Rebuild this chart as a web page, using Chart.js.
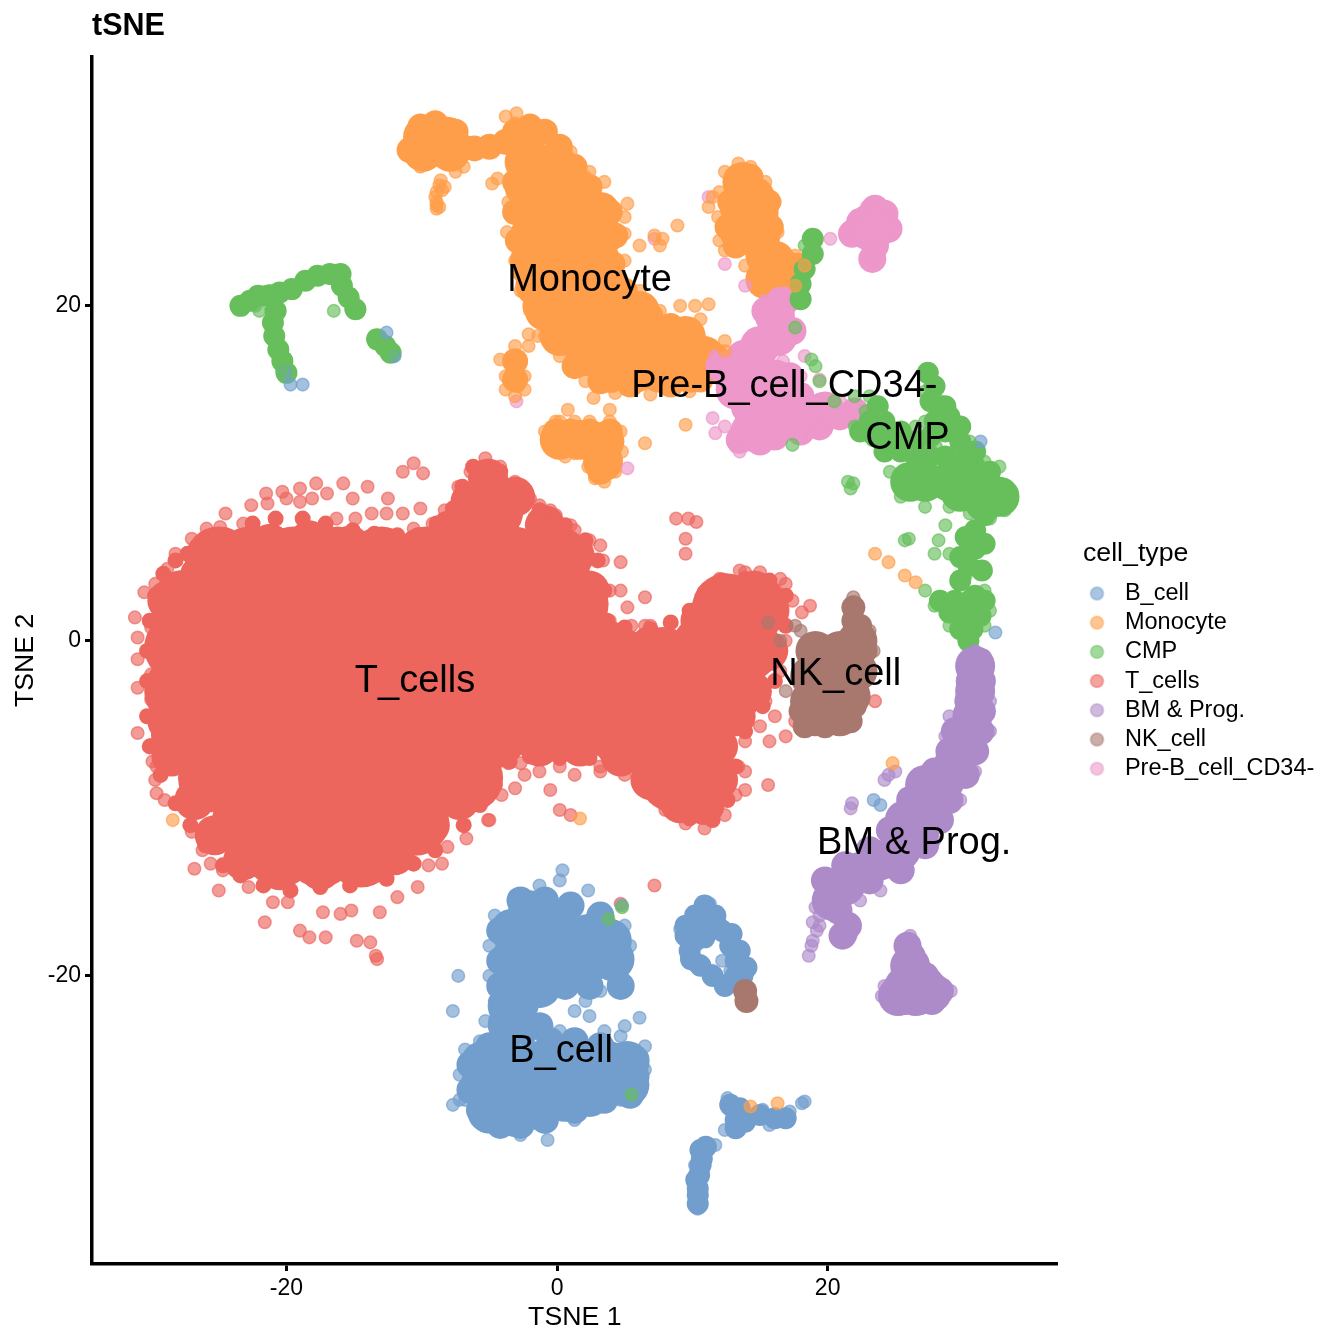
<!DOCTYPE html>
<html>
<head>
<meta charset="utf-8">
<title>tSNE</title>
<script src="https://cdn.jsdelivr.net/npm/chart.js@4"></script>
<style>
  html, body { margin: 0; padding: 0; background: #fff; }
  canvas { display: block; }
</style>
</head>
<body>
<canvas id="tsne" width="1344" height="1344"></canvas>
<script>
/* =========================
   DATA
========================= */
const cellTypes = ["B_cell", "Monocyte", "CMP", "T_cells", "BM & Prog.", "NK_cell", "Pre-B_cell_CD34-"];
const typeColors = ["114,158,206", "255,158,74", "103,191,92", "237,102,93", "173,139,201", "168,120,110", "237,151,202"];
const xTicks = [-20, 0, 20];
const yTicks = [-20, 0, 20];

// cluster names as printed over the plot
const labelNames = ["Monocyte", "Pre-B_cell_CD34-", "CMP", "T_cells", "NK_cell", "BM & Prog.", "B_cell"];
const labelX = [2.4, 16.8, 25.9, -10.5, 20.6, 26.4, 0.3];
const labelY = [21.5, 15.2, 12.1, -2.4, -2, -12.1, -24.5];

// dense middle of the big T cell cloud
const tCellsDeep = [
  [-25,4.8],[-22.7,4.8],[-19.5,4.8],[-16.2,4.8],[-13,4.8],[-9.7,4.8],[-6.5,4.8],[-3.2,4.8],[0,4.8],
  [-27.5,2.2],[-24.2,2.2],[-21,2.2],[-17.7,2.2],[-14.5,2.2],[-11.2,2.2],[-8,2.2],[-4.7,2.2],[-1.5,2.2],[1.3,2.2],[12.5,2],[14.5,2],
  [-28,-0.4],[-24.7,-0.4],[-21.5,-0.4],[-18.2,-0.4],[-15,-0.4],[-11.7,-0.4],[-8.5,-0.4],[-5.2,-0.4],[-2,-0.4],[1.3,-0.4],[4.5,-1.2],[7.8,-1.2],[11,-0.4],[14,-0.4],
  [-28,-3],[-24.7,-3],[-21.5,-3],[-18.2,-3],[-15,-3],[-11.7,-3],[-8.5,-3],[-5.2,-3],[-2,-3],[1.3,-3],[4.5,-3],[7.8,-3],[11,-3],[12.7,-3],
  [-27.5,-5.6],[-24.2,-5.6],[-21,-5.6],[-17.7,-5.6],[-14.5,-5.6],[-11.2,-5.6],[-8,-5.6],[-4.7,-5.6],[-1.5,-5],[1.7,-5],[5,-5.6],[8.2,-5.6],[10.5,-5.6],
  [-25.5,-8.2],[-22.2,-8.2],[-19,-8.2],[-15.7,-8.2],[-12.5,-8.2],[-9.2,-8.2],[-6.5,-8.2],[8.6,-8.2],[10,-8.2],
  [-23,-10.8],[-19.7,-10.8],[-16.5,-10.8],[-13.2,-10.8],[-10.5,-10.8],
  [-20.5,-12.7],[-17.5,-12.7],[-14.5,-12.7],[-5,7.8]
];
const tCellsCore = [
  [-28.8,2.4],[-28.8,0],[-28.8,-2.4],[-28.8,-4.8],[-28.5,-6.9],[-26.8,-9.5],[-25.3,-11.6],[-23.2,-13.1],[-20.5,-13.7],[-17.5,-13.7],
  [-14.6,-13.4],[-12,-12.8],[-9.4,-11],[-7.2,-9.5],[-5.7,-7.8],[-4.2,-6.3],[-1.3,-6.3],[1.7,-6.3],[4.7,-6.9],[6.9,-8.3],
  [9.1,-9.7],[10.9,-9.8],[11.9,-8.3],[11.9,-6.3],[13.2,-4.5],[14.4,-3],[15.6,-0.6],[15.7,1.8],[14.6,3],[12.4,2.7],
  [10.6,1.2],[6.9,-0.3],[3.9,0],[2.4,3],[1.3,5.1],[-0.9,6.9],[-3.1,8.6],[-5.1,9.7],[-6.4,8.3],[-7.9,6.6],
  [-10.1,4.9],[-12.7,5.1],[-15.3,5.7],[-18.3,6],[-21.2,5.8],[-23.8,4.8],[-26.4,3.9],[-27.9,3]
];
// thin solid rim round the T cell cloud
const tCellsRim = [
  [-29.1,4],[-28.2,4.8],[-27.3,5.2],[-26,5.7],[-24.5,6.3],[-22.5,7],[-20.8,7.3],[-18.8,7.3],[-17.1,7],[-15.1,6.6],[-13.5,6.4],[-11.8,6.3],[-10.3,6.3],
  [-8.9,7],[-7.7,7.9],[-7,9.2],[-6.2,10.4],[-4.2,10.1],[-2.7,8.9],[-1.3,7.8],[0.6,6.9],[2.1,6],[3,4.8],[3.5,3],[3.7,1.2],[5,0.8],[6.9,0.7],[8.4,1.1],
  [9.8,1.8],[10.9,2.9],[12.2,3.6],[13.9,3.7],[15.7,3.6],[16.9,2.7],[16.9,0.9],[16.5,-0.6],[16.1,-2.4],[15.2,-3.9],[13.9,-5.4],[13.2,-7.5],[12.6,-9.5],
  [11.5,-10.7],[9.8,-10.6],[8,-9.5],[6.5,-8.3],[4.7,-7.5],[2.4,-7],[0.2,-7],[-2,-6.9],[-3.5,-7.2],[-4.6,-8.6],[-5.7,-9.8],[-6.9,-11],[-9,-12.5],[-10.6,-13.3],
  [-12.6,-14.2],[-15.3,-14.6],[-17.5,-14.7],[-19.7,-14.9],[-21.7,-14.6],[-23.4,-14],[-24.7,-13.4],[-26,-12.2],[-27.1,-11],[-28.2,-9.7],[-29.3,-8],[-30.1,-6.3],
  [-30.3,-4.5],[-30.3,-2.4],[-30.3,-0.6],[-30.1,1.2],[-29.7,2.7]
];
const tCellsSpots = [
  [-31.2,1.4],[-31,0.2],[-31,-1.1],[-31,-2.8],[-31,-5.5],[-30.5,2.9],[-29.7,3.4],[-28.8,4.3],[-28.2,5.2],[-27,6.1],
  [-25.9,6.7],[-24.9,6.8],[-24.5,7.6],[-23.2,7],[-22.6,8.1],[-21.5,8.8],[-20.3,8.9],[-19,9.1],[-17.8,9.4],[-17,8.8],
  [-15.8,9.4],[-14,9.2],[-12.5,8.5],[-10.1,7.9],[-11.4,7.6],[-15.1,8.5],[-18.1,8.5],[-20,8.5],[-21.4,8.2],[-19,8.3],
  [-16.3,7.3],[-14.9,7.3],[-13.7,7.6],[-12.6,7.6],[-10.6,6.7],[-9.2,7],[-10.6,10.6],[-11.4,10.1],[-9.9,10],
  [-30,0.8],[-30.2,-0.6],[-30,-2],[-30,-3.5],[-29.8,-4.6],[-30,-6.2],[-29.6,-7.5],[-28.8,3.6],
  [-29.9,-7.2],[-29.7,-8.3],[-29.6,-9.1],[-29,-9.5],[-27,-11.4],[-26.2,-12.5],[-26.8,-13.6],[-25.6,-13.3],[-24.7,-13.7],[-25,-14.9],
  [-22.8,-14.7],[-21,-15.6],[-21.6,-16.8],[-19.9,-15.6],[-19,-17.3],[-18.3,-17.7],[-17.1,-17.7],[-17.3,-16.2],[-16,-16.3],[-15.2,-16.1],
  [-14.8,-17.9],[-13.8,-18],[-13.3,-19],[-13.4,-18.8],[-13.1,-16.2],[-11.8,-15.3],[-10.3,-14.7],[-9.5,-13.4],[-8.5,-13.3],[-8.1,-12.3],
  [-6.7,-11.8],[-5.1,-10.7],[-4.1,-9.2],[-3.6,-7.3],[-3.1,-8.8],
  [4.7,4.7],[9.7,7.3],[10.3,7.1],[8.8,7.3],[9.5,6.1],[9.5,5.2],[4.7,3],[5.2,2],[6.5,2.6],[5.5,0.9],[6.5,0.9],
  [-1.3,8.1],[-0.1,7.5],[1.3,6.6],[3.2,5.7],[12,3.7],[13.9,4.1],[16.9,3.4],[18.1,1.7],[18.7,2.1],
  [23.5,-3.6],[15.6,-8.6],[13.9,-7.8],[15.7,-6],[16.9,-5.7],[15,-5.1],[17.6,-4.8],[16.1,-4.5],
  [0.2,-10.1],[1,-10.4],[-0.5,-8.9],[-2.4,-8],[1.3,-8],[-1.3,-7.8],[-5,-10.7],[7.2,-14.6],[4.7,-15.7],[3.2,-7.8],[5,-8],[13.9,-8.9],
  [-2.7,-7.3],[0.2,-7.5],[3.2,-7.5],[6.1,-8.6],[8,-10.1],[9.5,-10.9],[10.9,-11.2],[12.4,-10.4],[13.2,-9.2],[13.4,-7.5],[13.9,-6],[15.4,-3.6],
  [6.9,0.9],[8.4,1.1],[9.8,1.7],[10.9,2.7],[12,3.6],[13.5,4.2],[15,4.1],[16.5,3.7],[17.4,2.4],[16.9,0],[16.5,-1.8],
  [-5.3,10.9],[-6.4,10.1],[-4.2,10.4],[-3.1,9.5],[-2,8.5],[-0.5,7.8],[1,6.9],[2.4,6],[3.4,4.8],[3.9,3],[3.9,1.2],[-7.3,9.2],[-8.3,7.8]
];

const monocyteCore = [
  [-2.4,29.8],[-2.4,28.6],[-0.1,28.6],[-2.4,27.1],[-0.5,27.1],[1.3,27.1],
  [-2,25.6],[-0.1,25.6],[1.7,25.6],[3.2,25.6],[-2,24.2],[-0.1,24.2],[1.7,24.2],[3.4,24.2],
  [-2,22.7],[-0.1,22.7],[1.7,22.7],[3.2,22.7],[-1.6,21.2],[0.2,21.2],[2.1,21.2],[3.9,21.2],
  [-0.9,19.7],[1,19.7],[2.8,19.7],[4.7,19.7],[6.1,19.7],[0.2,18.2],[2.1,18.2],[3.9,18.2],[5.8,18.2],[7.6,18.2],[9.5,18.2],
  [2.1,17],[3.9,17],[5.8,17],[7.6,17],[9.5,17],[10.9,17],[3.9,16],[5.8,16],[7.6,16],[9.8,16],
  [-9.9,30.1],[-9.9,29.2],[-8.1,30.1],[-7.9,29.2],
  [13.7,27.4],[14.6,26.5],[13.5,25.9],[14.9,25.6],[13.5,24.4],[15,24.1],[15.4,23],[16.9,22.1],[15.4,21.6],[16.1,22.7],
  [0.2,12],[1.7,12],[3.5,11.9],[3.4,10.7]
];
const monocyteBand = [
  [-10.9,29.3],[-10.1,30.7],[-9,30.9],[-7.5,30.4],[-7,29.5],[-6.1,29.4],[-5,29.5],[-3.8,29.8],[-3.1,30.4],[-2,30.7],[-0.9,30.4],[0.2,29.5],[1.3,28.3],[2.4,27.1],
  [3.9,25.6],[4.3,24.2],[4.1,22.5],[5,20.9],[6.9,19.4],[8.4,18.8],[10.2,17.6],[11.7,17],[-3.1,27.4],[-3.1,25.6],[-2.9,23.9],[-2.4,22.1],[-1.6,20],[-0.1,17.9],
  [1.3,16.4],[3.2,15.5],[5.4,15.3],[8.4,15.3],[10.6,15.6],[-3.1,16.7],[-3.1,15.6],[-0.1,12.5],[1,12.5],[2.4,12.5],[3.9,12.5],[3.2,10.1],
  [12.8,26.2],[12.6,24.7],[13.2,23.6],[14.3,27.7],[15.6,26.2],[15.8,24.7],[17.8,22.4],[17.2,21.2]
];
const monocyteSpots = [
  [-6.4,29.3],[-5.5,29.5],[-4.6,29.6],[-3.8,29.9],[-3.5,30.4],[-2,30.7],[-0.9,30.5],
  [-8.6,27.5],[-8.9,26.8],[-8.9,26.2],[-8.9,25.8],[-8.3,27.1],[-10.1,28.3],[-7.5,28],[-6.9,28.3],[-4.8,27.3],[-4.4,27.6],
  [-8.7,27.2],[-8.5,26.9],[-9,26.5],[-8.9,26],[-8.7,25.9],
  [-3.8,31.3],[-3,31.5],[-3.1,30.9],[1,29.2],[2.1,27.7],[3.5,27.4],[5.2,26.1],
  [5,24.3],[6.1,23.6],[7.2,24.2],[7.8,24],[7.6,23.6],[8.9,24.8],[9.1,20],[11.2,20.1],[10.6,19.2],[10.2,20],
  [-2.1,18.3],[-1.4,18.2],[-4.2,16.8],[-3.1,17.6],[-2.1,17.6],[-3.1,16.7],[-3.8,15.8],[-3.1,15.8],[-2.4,15.8],[-3.8,15],[-2.9,15.2],[-2.4,15],[-3.1,14.6],[1,16.2],
  [2.7,14.5],[4.1,15.2],[3.9,13.8],[0.8,13.8],[-0.1,13.1],[6.5,11.8],[9.5,12.9],
  [-0.9,12.5],[-0.7,11.9],[0.2,13.1],[1.3,13.1],[2.4,13.1],[3.9,13.1],[4.7,12.5],[4.8,11.3],[4.3,10.1],[3.5,9.5],[2.8,9.7],[2.3,10.4],[1.3,11.2],[0.6,11],[-0.1,11.6],
  [13.4,28.5],[14.3,28.3],[15.4,27.4],[16.1,26.2],[16.3,24.4],[17.6,23],[18.3,22.4],[17.6,21.2],[12,26.8],[11.9,25.3],[12,23.9],[12.4,23.3],[13.9,22.4],[14.3,23.3],[11.2,25.9],[11.5,26.5],[12.4,28],
  [23.5,5.2],[24.5,4.7],[25.7,3.9],[26.5,3.5],[1.7,-10.6],[24.8,-7.3],[14.3,-27.8],[16.3,-27.6],[-28.4,-10.7],[12.4,17.9],
  [-3.6,26.2],[-3.7,24.4],[-3.1,22.7],[-2.7,20.9],[-2,19.7],[-0.9,18.2],[0.2,17],[2.1,15.5],[4.3,14.8],[6.9,14.7],[9.8,14.9],
  [5,25.3],[5,22.7],[6.1,20.9],[7.6,19.7],[9.1,18.8],[10.6,18],[12.4,17.3],[2.4,28],[3.9,25.9]
];

const preBCore = [
  [16.1,19.4],[16.3,18.2],[15,17.6],[13.9,16.8],[12.8,16.1],[14.6,16],[16.1,15.6],[13.2,15],[15,14.6],[16.9,14.4],
  [14.6,13],[16.5,13.1],[18.3,13.4],[19.8,13.7],[14.3,12.5],[23.1,24.9],[23.7,24.7]
];
const preBBand = [
  [12,16.4],[13.2,16.7],[13.9,13.9],[13.5,12],[15,11.9],[16.1,12.2],[18,14.6],[17.2,15.8],[18,12.5],[19.4,12.8],[20.9,13.4],[22,13.7],
  [16.5,20.3],[15.4,19.7],[16.9,20.3],[17.4,18.5],[22.4,25],[23.5,25.8],[24.2,25.5],[24.5,24.6],[22.8,24.2],[23.5,23.6],[23.3,22.8],[21.8,24.3]
];
const preBSpots = [
  [22.9,25.9],[24.2,25.9],[24.7,24.7],[21.6,24.7],[21.5,24.1],[23.1,23.6],[23.9,23.6],[23.3,22.7],[22.4,25.3],[20.2,24],
  [7.2,24],[-3,14.3],[5.2,10.3],[13.9,21.2],[12.4,22.5],[11.2,26.5],[11.7,12.4],[11.5,13.3],[13.2,11.6],[16.7,16.7],
  [18.3,17],[19.4,15.6],[18,15.8],[20.9,14.3],[22,13.7],[15.4,20.3],[17.2,20.3],[11.7,17],[12.4,12.8],[13.5,11.3],[18,12.2],[19.4,12.8]
];

const cmpCore = [
  [26.1,9.5],[27.2,9.5],[29,9.5],[30.9,9.5],[32.7,8.6],[29.8,8.9],[31.6,8.3]
];
const cmpBand = [
  [23.7,14],[23.1,13.1],[24.2,13.1],[22.4,12.5],[23.5,12.2],[24.6,12.2],[25.4,12.5],[24.2,11.3],[25.4,11.3],[26.5,11.9],[27.6,12.2],[28.7,12.5],[29.8,11.9],[30.9,11.3],
  [27.9,13.1],[29,13.4],[27.6,14.3],[27.9,15.2],[27.4,16],[28.7,14],[29.8,12.8],[26.5,11],[27.6,11],[28.7,11],[29.8,10.7],[30.9,10.4],[32,10.1],
  [31.6,7.5],[30.9,6.6],[30.9,5.5],[30.4,4.5],[29.8,3.6],[30.9,2.7],[29.8,5],[31.4,4.2],[30.2,6.2],[31.6,5.8],
  [28.3,2.4],[29.4,2.4],[30.5,2.4],[31.6,2.4],[29,1.7],[30.2,1.5],[31.3,1.5],[29.8,0.7],[30.7,0.7],[30.4,0],
  [18.9,24],[18.9,23.1],[18.3,22.2],[18,21.3],[18,20.4],
  [-23.4,20],[-22.7,20.3],[-22.1,20.6],[-21.4,20.6],[-20.5,20.8],[-19.6,21],[-18.6,21.5],[-17.7,21.8],[-16.8,21.9],[-16,21.9],[-15.9,21.2],[-15.4,20.5],[-14.9,19.8],
  [-20.8,19.7],[-21,19],[-20.9,18.2],[-20.6,17.4],[-20.3,16.7],[-20,16],[-13.3,18],[-12.7,17.6],[-12.3,17.2]
];
const cmpSpots = [
  [18.3,23.6],[19.1,24],[18.7,23],[18.3,22.1],[18,21.2],[18.2,20.5],[17.6,18.7],[18.8,16.8],[19.1,16.4],[19.4,15.5],[17.4,11.7],
  [20.5,14.3],[22,14.6],[23.1,14.6],[23.9,13.7],[22.8,13.7],[22,12.8],[24.2,12.5],[23.1,12.2],[24.6,11.3],
  [27.6,15.8],[27.2,14.9],[28.3,14.3],[29,13.7],[29.8,12.8],[30.5,11.9],[28.7,12.5],[28,11.6],[29.4,11.3],[30.9,11],[27.2,13.1],[26.5,12.8],
  [24.6,10.1],[31.6,10.7],[32.7,10.4],[33.6,8.9],[33.1,7.8],[32,7.3],[30.5,7.6],[25.4,8.6],[27.2,8],[29,8],
  [30.9,6.6],[30.9,5.7],[30.4,4.8],[30.2,3.9],[28.7,6.9],[28.2,6],[27.9,5.2],[29,5.2],[25.7,6],[26,6.1],[21.9,9.4],[21.5,9.5],[21.7,9.1],
  [27.2,3],[27.9,2.1],[29,0.9],[30.2,0],[31.6,0.9],[32,1.8],[31.6,3],
  [-23.4,20],[-22.8,20.4],[-22.1,20.8],[-21.4,20.4],[-22.3,20],[-21.2,20.9],[-20.1,20.9],[-19,21.3],[-17.9,21.8],[-16.4,22.1],[-16,21.5],[-15.7,20.6],[-15.2,19.8],[-14.7,19.6],[-16.5,19.7],
  [-20.6,19.7],[-21.1,18.5],[-20.6,17.3],[-20.3,16.2],[-22,19.7],[-13.5,18.2],[-12.7,17.6],[-12.2,17.2],
  [3.8,-16.6],[4.8,-15.9],[5.5,-27.1]
];

const bmCore = [
  [30.9,-1.5],[30.9,-3],[30.7,-4.5],[30.2,-6],[29.4,-7.2],[28.7,-8.3],[27.2,-8.6],[27.6,-9.8],[25.7,-10.7],[26.8,-11.3],
  [25.4,-12.5],[23.9,-13.1],[22.4,-13.8],[21.3,-14.6],[20.3,-15.5],
  [26.1,-19.4],[25.7,-20.6],[27.2,-20.6],[25.2,-21.2],[26.5,-21.2],[27.7,-21]
];
const bmBand = [
  [30.5,-2.4],[31.4,-2.4],[30.4,-3.6],[31.4,-4.2],[31.3,-5.4],[29.4,-5.4],[29,-6.6],[30.9,-6.6],[30.2,-8],[27.9,-7.8],[26.1,-9.5],[29,-9.5],[28.3,-10.7],[24.6,-11.3],[27.2,-12.2],
  [23.1,-12.5],[25.4,-13.7],[21.3,-13.4],[19.8,-14.3],[23.1,-14.3],[20.8,-16.1],[21.5,-17],[21.1,-17.6],
  [25.9,-18.2],[26.2,-18.8],[25.2,-20.6],[24.8,-21.2],[28.3,-20.9],[26.8,-21.5],[25.7,-21.5],[27.7,-21.5],[27.2,-20]
];
const bmSpots = [
  [19.4,-17],[18.9,-17.9],[18.6,-18.8],[18.9,-16.8],[19.1,-15.9],[19.5,-15.2],[19.2,-17.3],[18.8,-18.2],[19.4,-16.4],[21.5,-17],[20.9,-17.6],[21.7,-17.6],[20.5,-16.4],[26.1,-17.6],[25.9,-18.2],[30.9,-0.6],[31.6,-0.9],
  [24.5,-8],[25,-7.8],[24.2,-8.3],[21.8,-9.7],[21.7,-10],[29,-4.5],[28.7,-5.7],[32,-3.6],[32,-5.4],[30.9,-7.8],[29.8,-9.5],[27.9,-11.9],[25.7,-13.7],[23.9,-14.9],
  [25.7,-9.2],[22.4,-15.5],[24.2,-20.6],[29.1,-20.9],[26.8,-21.9],[25.7,-21.9],[27.7,-21.8],[27.7,-20],[26.9,-19.1],[24,-21.2]
];

const nkCore = [
  [19.1,-0.6],[20.9,-0.6],[22.2,0],[18.7,-2.1],[20.5,-2.1],[22.2,-1.8],[18.7,-3.6],[20.5,-3.5],[21.7,-3.3],[19.1,-4.5],[20.9,-4.5]
];
const nkBand = [[22.4,0.9],[22.8,-0.6],[18,-4.2],[18.3,-5.1],[21.7,-4.8],[19.8,-5.1],[22,-3.9],[21.9,2],[21.9,1.2],[13.9,-20.9],[14,-21.5]];
const nkSpots = [
  [21.9,2.6],[21.9,1.8],[21.9,1.2],[17.6,0.9],[15.6,1.1],[16.5,0],[16.9,-3],[13.9,-21],[14,-21.6],[23.4,-0.6],[23.1,0.6],[18,0.6]
];

const bCellCore = [
  [-2,-16.2],[-0.1,-16.8],[-3.3,-17.3],[-1.5,-17.8],[0.4,-18.2],[2.4,-17.6],[3.9,-17.9],[-3.1,-18.8],[-1.3,-19.2],[0.6,-19.4],[2.4,-19.1],[4.1,-19],
  [-3.1,-20.3],[-1.3,-20.6],[-3.5,-21.8],[-3.5,-22.9],
  [-5.5,-25.2],[-3.6,-25.2],[-1.8,-25.2],[0.1,-25.2],[1.9,-25.2],[3.8,-25.2],[5.2,-25.2],
  [-5.5,-26.5],[-3.6,-26.5],[-1.8,-26.5],[0.1,-26.5],[1.9,-26.5],[3.8,-26.5],[5.2,-26.5],
  [-5,-28.1],[-3.1,-28.3],[-1.3,-27.9],[0.6,-27.4],[2.4,-27.1]
];
const bCellBand = [
  [-2.7,-15.5],[-0.9,-15.5],[1,-15.8],[3.2,-16.4],[-4.2,-17.3],[-4.2,-19.1],[-4.2,-20.6],[-2.4,-21.8],[-2.4,-23.3],[-1.3,-23],[-0.5,-23.9],[1.3,-23.9],[3.2,-24.2],[-5,-24.2],
  [4.7,-20.6],[2.4,-20.6],[0.6,-20.6],[-6.4,-25.3],[-6.4,-26.8],[-5.7,-28],[-4.2,-28.9],[-2.7,-28.9],[-0.9,-28.6],[1.3,-28],[3.5,-27.4],[5.4,-27.1],[5.8,-25],[5.8,-26]
];
const bCellStrip = [
  [10.9,-15.8],[10.2,-16.4],[9.5,-17],[10.6,-17],[11.7,-16.4],[12.2,-17.3],[12.8,-18.2],[13.2,-19.1],[13.7,-20],[12.4,-20.6],[11.5,-20],[10.6,-19.4],[9.8,-18.5],[9.5,-17.6],[13.2,-20],
  [10.9,-17.7],[9.9,-19],[12.9,-17.5],[13.5,-18.5],[14,-19.5],[11.9,-17.1],[10.2,-17.9],
  [12.8,-27.7],[13.2,-28.6],[13.9,-28.7],[15,-28.3],[16.1,-28.5],[16.9,-28.5],[13.2,-29.1],[13.5,-27.9],[10.6,-31.3],[10.3,-32.2],[10.4,-33.1],[10.6,-30.4],[10.5,-31.9],[10.4,-32.7],[10.4,-33.6],[10.7,-30.9],[11,-30.2]
];
const bCellSpots = [
  [0.4,-13.7],[0.2,-14.3],[2.3,-14.9],[-7.3,-20],[-7.7,-22.1],[-7.7,-27.7],[-7.2,-27.4],[-0.7,-29.8],[4.7,-23.6],[6.1,-22.5],[5,-23],[3.5,-23.3],
  [2.4,-22.4],[1.3,-22.1],[0.2,-23.3],[-0.9,-22.7],[-2,-23.3],[-1.3,-21.5],[3.2,-20.9],[2.1,-21.5],[5,-19.4],[5.4,-18.2],[5,-17],[4.8,-15.8],
  [-5,-18.2],[-5,-20],[-4.6,-21.5],[-5.3,-22.7],[-5.7,-23.9],[-6.8,-24.4],[-7.2,-25.9],[-6.8,-27.4],[-4.2,-29.2],[-2.7,-29.5],[3.2,-27.7],[4.7,-27.4],
  [5.8,-26.8],[6.5,-25.6],[6.5,-24.2],[2.4,-28],[3.8,-27.4],[1.3,-28.6],[-1.3,-14.6],[-3.1,-15.2],[-4.6,-16.4],
  [11.3,-15.7],[10.6,-16.1],[9.8,-17],[9.1,-17.2],[10.6,-17],[11.7,-16.7],[12.2,-17.6],[12.8,-18.5],[13.4,-19.4],[13.7,-20.4],[12.4,-20.3],[11.5,-19.7],
  [10.6,-19.1],[9.8,-18.2],[10.2,-19.4],[12.8,-19.7],[13.2,-20.6],[12.2,-19.1],
  [12.6,-27.3],[12.8,-28],[12.4,-29.2],[13.4,-28.5],[14.3,-28.6],[15.2,-28],[16.1,-28.5],[16.9,-28.7],[17.2,-28.1],[18.3,-27.5],[18.1,-27.6],[15.7,-28.9],[13.5,-29.2],
  [11.7,-30.1],[10.9,-30.7],[10.2,-31.3],[10.9,-31.3],[10,-32.1],[10.6,-31.9],[10.3,-32.8],[10.4,-33.4],[10.4,-33.9],
  [-19.7,15.3],[-18.8,15.3],[-20.1,16.1],[-12.6,18.4],[-12,17],[31.3,11.9],[32.4,0.5],[23.4,-9.5],[23.9,-9.8]
];

/* =========================
   DATASETS
========================= */
const FONT = "'Liberation Sans', Arial, sans-serif";

function rgba(i, a) {
  return "rgba(" + typeColors[i] + "," + a + ")";
}

// tight blobs are solid, loose points keep the see-through look of the original
function solid(name, i, points, radius, order) {
  return {
    label: name,
    data: points.map(p => ({ x: p[0], y: p[1] })),
    backgroundColor: rgba(i, 1),
    borderWidth: 0,
    pointRadius: radius,
    pointHoverRadius: radius,
    order: order
  };
}

function spots(name, i, points, order) {
  return {
    label: name,
    data: points.map(p => ({ x: p[0], y: p[1] })),
    backgroundColor: rgba(i, 0.65),
    borderColor: rgba(i, 0.65),
    borderWidth: 1.5,
    pointRadius: 6.3,
    pointHoverRadius: 6.3,
    order: order
  };
}

const datasets = [
  spots("B_cell", 0, bCellSpots, 1),
  solid("B_cell core", 0, bCellCore, 22, 1),
  solid("B_cell band", 0, bCellBand, 14, 1),
  solid("B_cell strip", 0, bCellStrip, 11, 1),
  spots("Monocyte", 1, monocyteSpots, 0),
  solid("Monocyte core", 1, monocyteCore, 20, 6),
  solid("Monocyte band", 1, monocyteBand, 13, 6),
  spots("CMP", 2, cmpSpots, 0),
  solid("CMP core", 2, cmpCore, 20, 4),
  solid("CMP band", 2, cmpBand, 11, 4),
  spots("T_cells", 3, tCellsSpots, 7),
  solid("T_cells rim", 3, tCellsRim, 8, 8),
  solid("T_cells core", 3, tCellsCore, 20, 8),
  solid("T_cells deep", 3, tCellsDeep, 34, 8),
  spots("BM & Prog.", 4, bmSpots, 3),
  solid("BM & Prog. core", 4, bmCore, 20, 3),
  solid("BM & Prog. band", 4, bmBand, 14, 3),
  spots("NK_cell", 5, nkSpots, 2),
  solid("NK_cell core", 5, nkCore, 20, 2),
  solid("NK_cell band", 5, nkBand, 12, 0.5),
  spots("Pre-B_cell_CD34-", 6, preBSpots, 5),
  solid("Pre-B_cell_CD34- core", 6, preBCore, 20, 5),
  solid("Pre-B_cell_CD34- band", 6, preBBand, 14, 5)
];

/* =========================
   LEGEND MARK
========================= */
// circle sits left of the sprite centre so the text gap matches the original
function legendMark(i) {
  const c = document.createElement("canvas");
  c.width = 34;
  c.height = 20;
  const g = c.getContext("2d");
  g.beginPath();
  g.arc(12.5, 10, 6.3, 0, Math.PI * 2);
  g.fillStyle = rgba(i, 0.6);
  g.fill();
  g.lineWidth = 1.5;
  g.strokeStyle = rgba(i, 0.6);
  g.stroke();
  return c;
}

/* =========================
   PLUGINS
========================= */
const clusterLabels = {
  id: "clusterLabels",
  afterLayout(chart) {
    chart.titleBlock.left = chart.chartArea.left;
    // ggplot keeps the legend in its own place, pin it there
    chart.legend.left = 1084;
    chart.legend.right = 1344;
    chart.legend.top = 576;
    chart.legend.bottom = 1344;
  },
  afterDraw(chart) {
    const ctx = chart.ctx;
    ctx.save();
    ctx.fillStyle = "#000";
    ctx.textBaseline = "middle";
    ctx.font = "26.7px " + FONT;
    ctx.textAlign = "left";
    ctx.fillText("cell_type", 1083, 554);
    ctx.font = "38px " + FONT;
    ctx.textAlign = "center";
    labelNames.forEach((name, i) => {
      ctx.fillText(name, chart.scales.x.getPixelForValue(labelX[i]), chart.scales.y.getPixelForValue(labelY[i]));
    });
    ctx.restore();
  }
};

/* =========================
   CHART
========================= */
new Chart(document.getElementById("tsne"), {
  type: "scatter",
  data: { datasets: datasets },
  plugins: [clusterLabels],
  options: {
    responsive: false,
    animation: false,
    events: [],
    layout: { padding: { top: 0, right: 46, bottom: 10, left: 10 } },
    plugins: {
      tooltip: { enabled: false },
      title: {
        display: true,
        text: "tSNE",
        align: "start",
        color: "#000",
        font: { family: FONT, size: 30.5, weight: "bold" },
        padding: { top: 8, bottom: 12 }
      },
      legend: {
        position: "right",
        align: "start",
        labels: {
          usePointStyle: true,
          color: "#000",
          font: { family: FONT, size: 23.5 },
          padding: 5.7,
          generateLabels() {
            return cellTypes.map((name, i) => ({
              text: name,
              pointStyle: legendMark(i),
              fontColor: "#000",
              lineWidth: 0,
              hidden: false,
              datasetIndex: i
            }));
          }
        }
      }
    },
    scales: {
      x: {
        type: "linear",
        min: -34.37,
        max: 37,
        afterFit(s) { s.height = 70; },
        afterBuildTicks(s) { s.ticks = xTicks.map(v => ({ value: v })); },
        border: { color: "#000", width: 3.5 },
        grid: { drawOnChartArea: false, color: "#000", tickLength: 7, tickWidth: 3, tickColor: "#000" },
        ticks: { color: "#000", font: { family: FONT, size: 23 }, padding: 4, maxRotation: 0 },
        title: { display: true, text: "TSNE 1", color: "#000", font: { family: FONT, size: 26.7 }, padding: { top: 0, bottom: 0 } }
      },
      y: {
        type: "linear",
        min: -37.2,
        max: 34.88,
        afterFit(s) { s.width = 82; },
        afterBuildTicks(s) { s.ticks = yTicks.map(v => ({ value: v })); },
        border: { color: "#000", width: 3.5 },
        grid: { drawOnChartArea: false, color: "#000", tickLength: 7, tickWidth: 3, tickColor: "#000" },
        ticks: { color: "#000", font: { family: FONT, size: 23 }, padding: 4 },
        title: { display: true, text: "TSNE 2", color: "#000", font: { family: FONT, size: 26.7 }, padding: { top: 0, bottom: 0 } }
      }
    }
  }
});
</script>
</body>
</html>
